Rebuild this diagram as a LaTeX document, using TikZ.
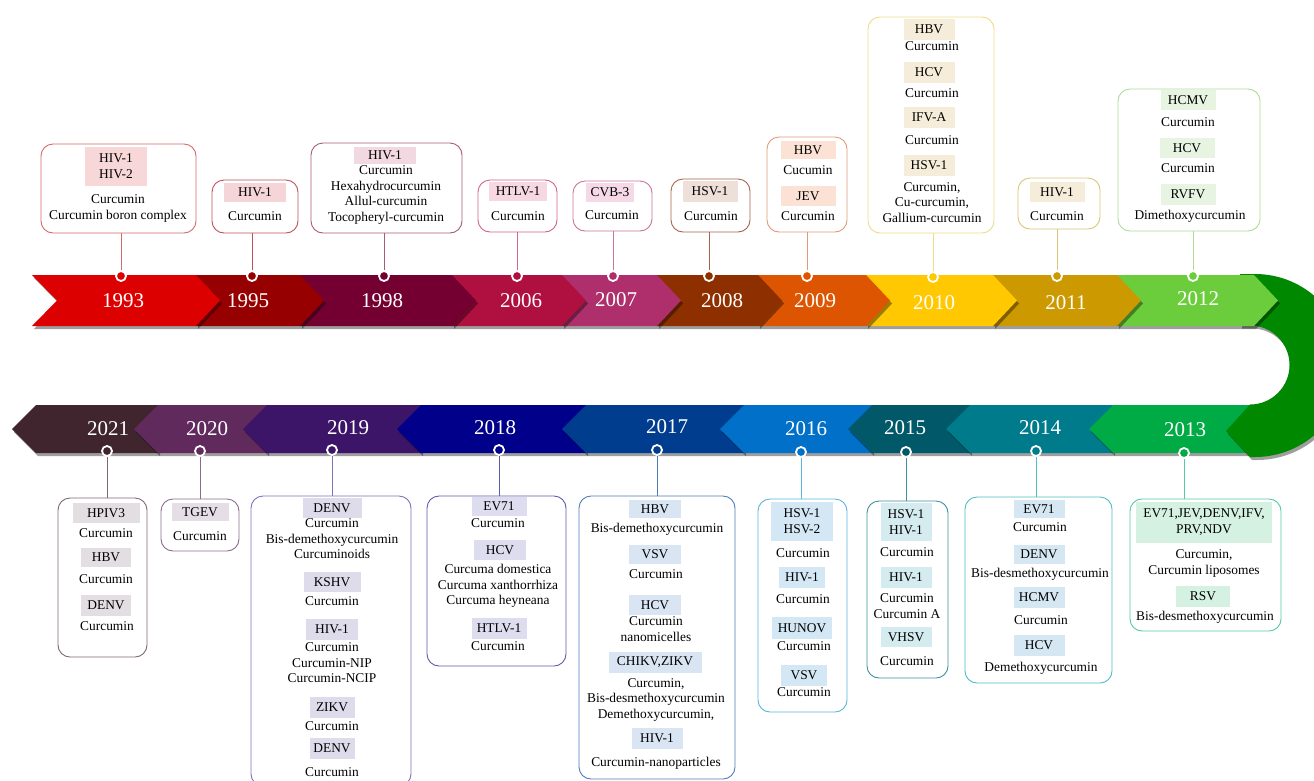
\documentclass[tikz,border=0pt]{standalone}
\usepackage{fontspec}
\setmainfont{Liberation Serif}
\usetikzlibrary{fit}
% band colours
\definecolor{c1993}{HTML}{DD0000}\definecolor{c1995}{HTML}{960000}
\definecolor{c1998}{HTML}{730030}\definecolor{c2006}{HTML}{B01040}
\definecolor{c2007}{HTML}{AE2F6B}\definecolor{c2008}{HTML}{8E2F00}
\definecolor{c2009}{HTML}{DD5500}\definecolor{c2010}{HTML}{FFC800}
\definecolor{c2011}{HTML}{CC9900}\definecolor{c2012}{HTML}{6CCD3C}
\definecolor{cU}{HTML}{008800}
\definecolor{c2013}{HTML}{00AA44}\definecolor{c2014}{HTML}{007B8B}
\definecolor{c2015}{HTML}{005868}\definecolor{c2016}{HTML}{0070C8}
\definecolor{c2017}{HTML}{003D8F}\definecolor{c2018}{HTML}{00008A}
\definecolor{c2019}{HTML}{3C1568}\definecolor{c2020}{HTML}{602A5C}
\definecolor{c2021}{HTML}{40252F}
% box borders
\definecolor{b1993}{HTML}{D46A6A}\definecolor{b1995}{HTML}{C0505A}
\definecolor{b1998}{HTML}{A85A78}\definecolor{b2006}{HTML}{D0648C}
\definecolor{b2007}{HTML}{C8749C}\definecolor{b2008}{HTML}{A8644A}
\definecolor{b2009}{HTML}{E09A78}\definecolor{b2010}{HTML}{F0DC88}
\definecolor{b2011}{HTML}{DCC478}\definecolor{b2012}{HTML}{ADDC98}
\definecolor{b2021}{HTML}{7E6874}\definecolor{b2020}{HTML}{8C6C8A}
\definecolor{b2019}{HTML}{8470BA}\definecolor{b2018}{HTML}{5C5CAA}
\definecolor{b2017}{HTML}{4C7CBA}\definecolor{b2016}{HTML}{5CB4DE}
\definecolor{b2015}{HTML}{3E909E}\definecolor{b2014}{HTML}{52BAC2}
\definecolor{b2013}{HTML}{52CAA2}
% header fills
\definecolor{h1993}{HTML}{F7D7D7}\definecolor{h1995}{HTML}{F5D5D8}
\definecolor{h1998}{HTML}{F2D8E0}\definecolor{h2006}{HTML}{F6D8E2}
\definecolor{h2007}{HTML}{F6D9E6}\definecolor{h2008}{HTML}{EEDFD8}
\definecolor{h2009}{HTML}{FBE2D4}\definecolor{h2010}{HTML}{F5EDDA}
\definecolor{h2012}{HTML}{E7F4E1}
\definecolor{h2021}{HTML}{E3DEE2}\definecolor{h2020}{HTML}{E6DEE6}
\definecolor{h2019}{HTML}{DEDBEA}\definecolor{h2018}{HTML}{DDDDEF}
\definecolor{h2017}{HTML}{DAE5F4}\definecolor{h2016}{HTML}{D4E7F5}
\definecolor{h2015}{HTML}{D4EBEF}\definecolor{h2014}{HTML}{D6E7F4}
\definecolor{h2013}{HTML}{D4F1E1}

\newcount\nn
\newcommand\Tx[3]{\global\advance\nn by 1\relax\node[txt] (t\the\nn) at (#1,#2) {#3};}
\newcommand\Hd[6]{\global\advance\nn by 1\relax\node[hdr,fill=#5,minimum width=#3pt,minimum height=#4pt] (h\the\nn) at (#1,#2) {#6};}
\newcommand\Bx[6]{\node[bx,draw=#6,fit={(#2,#3) (#4,#5)}] (#1) {};}
\newcommand\Dt[4]{\node[dotnode,fill=#4] (#1) at (#2,#3) {};}
\newcommand\TopSeg[3]{%
  \fill[shd,shift={(2,3)}] (#1,275) -- (#2,275) -- ({#2+24},300.5) -- (#2,326) -- (#1,326) -- cycle;
  \fill[#3] (#1,275) -- (#2,275) -- ({#2+24},300.5) -- (#2,326) -- (#1,326) -- cycle;}
\newcommand\BotSeg[3]{%
  \fill[shd,shift={(2,3)}] (#1,429) -- ({#1+24},405) -- (#2,405) -- (#2,453) -- ({#1+24},453) -- cycle;
  \fill[#3] (#1,429) -- ({#1+24},405) -- (#2,405) -- (#2,453) -- ({#1+24},453) -- cycle;}

\begin{document}
\begin{tikzpicture}[x=1pt,y=-1pt,
  shd/.style={fill=black,opacity=0.38},
  txt/.style={inner sep=0pt,text height=9.2pt,text depth=2.8pt,font=\fontsize{13.4}{15.5}\selectfont},
  hdr/.style={inner sep=0pt,align=center,font=\fontsize{13.4}{16}\selectfont},
  bx/.style={rounded corners=12pt,line width=0.9pt,fill=white,inner sep=0pt},
  dotnode/.style={circle,inner sep=0pt,minimum size=10pt,draw=white,line width=1.8pt},
  yr/.style={text=white,inner sep=0pt,font=\fontsize{21}{24}\selectfont},
  cn/.style={line width=0.9pt}]
\useasboundingbox (0,0) rectangle (1314,780);
\clip (0,0) rectangle (1314,780);

% ---------- bottom band (left to right) ----------
\BotSeg{12}{158}{c2021}
\BotSeg{134}{267}{c2020}
\BotSeg{243}{421}{c2019}
\BotSeg{397}{586}{c2018}
\BotSeg{562}{744}{c2017}
\BotSeg{720}{872}{c2016}
\BotSeg{848}{970}{c2015}
\BotSeg{946}{1113}{c2014}
\BotSeg{1089}{1260}{c2013}

% ---------- U turn ----------
\fill[shd,shift={(2,3)}] (1240,274) -- (1255,274) .. controls (1305.5,274) and (1346.5,315) .. (1346.5,365.5)
  .. controls (1346.5,416) and (1305.5,457) .. (1255,457) -- (1250,457) -- (1226,431) -- (1250,404.5)
  .. controls (1271.8,404.5) and (1289.5,386.8) .. (1289.5,365) .. controls (1289.5,343.2) and (1271.8,325.5) .. (1250,325.5)
  -- (1240,325.5) -- cycle;
\fill[cU] (1240,274) -- (1255,274) .. controls (1305.5,274) and (1346.5,315) .. (1346.5,365.5)
  .. controls (1346.5,416) and (1305.5,457) .. (1255,457) -- (1250,457) -- (1226,431) -- (1250,404.5)
  .. controls (1271.8,404.5) and (1289.5,386.8) .. (1289.5,365) .. controls (1289.5,343.2) and (1271.8,325.5) .. (1250,325.5)
  -- (1240,325.5) -- cycle;

% ---------- top band (right to left) ----------
\TopSeg{1117}{1254}{c2012}
\TopSeg{993}{1117}{c2011}
\TopSeg{866}{993}{c2010}
\TopSeg{758}{866}{c2009}
\TopSeg{657}{758}{c2008}
\TopSeg{562}{657}{c2007}
\TopSeg{452}{562}{c2006}
\TopSeg{300}{452}{c1998}
\TopSeg{196}{300}{c1995}
\fill[shd,shift={(2,3)}] (32,275) -- (196,275) -- (220,300.5) -- (196,326) -- (32,326) -- (57,300.5) -- cycle;
\fill[c1993] (32,275) -- (196,275) -- (220,300.5) -- (196,326) -- (32,326) -- (57,300.5) -- cycle;

% ---------- years ----------
\node[yr] (y1993) at (123,301) {1993};
\node[yr] (y1995) at (248,301) {1995};
\node[yr] (y1998) at (382,301) {1998};
\node[yr] (y2006) at (521,301) {2006};
\node[yr] (y2007) at (616,300) {2007};
\node[yr] (y2008) at (722,301) {2008};
\node[yr] (y2009) at (815,301) {2009};
\node[yr] (y2010) at (934,303) {2010};
\node[yr] (y2011) at (1066,303) {2011};
\node[yr] (y2012) at (1198,299) {2012};
\node[yr] (y2021) at (108,429) {2021};
\node[yr] (y2020) at (207,429) {2020};
\node[yr] (y2019) at (348,428) {2019};
\node[yr] (y2018) at (495,428) {2018};
\node[yr] (y2017) at (667,427) {2017};
\node[yr] (y2016) at (806,429) {2016};
\node[yr] (y2015) at (905,428) {2015};
\node[yr] (y2014) at (1040,428) {2014};
\node[yr] (y2013) at (1185,430) {2013};

% ---------- boxes ----------
\Bx{x1993}{41}{144}{196}{233}{b1993}
\Bx{x1995}{212}{180}{298}{233}{b1995}
\Bx{x1998}{311}{143}{462}{233}{b1998}
\Bx{x2006}{478}{180}{557}{232}{b2006}
\Bx{x2007}{573}{181}{652}{231}{b2007}
\Bx{x2008}{671}{179}{750}{232}{b2008}
\Bx{x2009}{767}{137}{847}{232}{b2009}
\Bx{x2010}{868}{17}{994}{233}{b2010}
\Bx{x2011}{1018}{178}{1100}{229}{b2011}
\Bx{x2012}{1118}{89}{1260}{231}{b2012}
\Bx{x2021}{58}{498}{147}{657}{b2021}
\Bx{x2020}{161}{499}{239}{551}{b2020}
\Bx{x2019}{251}{496}{411}{786}{b2019}
\Bx{x2018}{427}{496}{566}{666}{b2018}
\Bx{x2017}{579}{496}{735}{779}{b2017}
\Bx{x2016}{758}{499}{847}{712}{b2016}
\Bx{x2015}{867}{501}{948}{678}{b2015}
\Bx{x2014}{965}{497}{1112}{683}{b2014}
\Bx{x2013}{1130}{499}{1281}{631}{b2013}

% ---------- box contents: top ----------
\Hd{116}{166.5}{62}{39}{h1993}{HIV-1\\HIV-2}
\Tx{118}{200}{Curcumin}
\Tx{118}{216}{Curcumin boron complex}

\Hd{255}{192.5}{62}{19}{h1995}{HIV-1}
\Tx{255}{217}{Curcumin}

\Hd{385}{155}{62}{17}{h1998}{HIV-1}
\Tx{386}{171}{Curcumin}
\Tx{386}{187}{Hexahydrocurcumin}
\Tx{386}{202}{Allul-curcumin}
\Tx{386}{218}{Tocopheryl-curcumin}

\Hd{518}{191.5}{58}{19}{h2006}{HTLV-1}
\Tx{518}{217}{Curcumin}

\Hd{610}{192}{48}{19}{h2007}{CVB-3}
\Tx{612}{216}{Curcumin}

\Hd{710}{191}{55}{21}{h2008}{HSV-1}
\Tx{711}{217}{Curcumin}

\Hd{808}{150}{55}{18}{h2009}{HBV}
\Tx{808}{171}{Cucumin}
\Hd{808}{196}{55}{20}{h2009}{JEV}
\Tx{808}{217}{Curcumin}

\Hd{929}{29}{51}{21}{h2010}{HBV}
\Tx{932}{47}{Curcumin}
\Hd{929}{72.5}{51}{21}{h2010}{HCV}
\Tx{932}{94}{Curcumin}
\Hd{929}{117.5}{51}{21}{h2010}{IFV-A}
\Tx{932}{141}{Curcumin}
\Hd{929}{165.5}{51}{21}{h2010}{HSV-1}
\Tx{932}{188}{Curcumin,}
\Tx{932}{203}{Cu-curcumin,}
\Tx{932}{219}{Gallium-curcumin}

\Hd{1057}{192}{55}{20}{h2010}{HIV-1}
\Tx{1057}{217}{Curcumin}

\Hd{1188}{100}{55}{20}{h2012}{HCMV}
\Tx{1188}{123}{Curcumin}
\Hd{1187}{148}{55}{20}{h2012}{HCV}
\Tx{1188}{169}{Curcumin}
\Hd{1188}{194.5}{55}{21}{h2012}{RVFV}
\Tx{1190}{216}{Dimethoxycurcumin}

% ---------- box contents: bottom ----------
\Hd{106}{513}{67}{20}{h2021}{HPIV3}
\Tx{106}{534}{Curcumin}
\Hd{106}{557.5}{50}{19}{h2021}{HBV}
\Tx{106}{580}{Curcumin}
\Hd{106}{605.5}{50}{21}{h2021}{DENV}
\Tx{107}{627}{Curcumin}

\Hd{200}{512}{57}{18}{h2020}{TGEV}
\Tx{200}{537}{Curcumin}

\Hd{332}{508}{59}{20}{h2019}{DENV}
\Tx{332}{524}{Curcumin}
\Tx{332}{540}{Bis-demethoxycurcumin}
\Tx{332}{555}{Curcuminoids}
\Hd{332}{582}{57}{20}{h2019}{KSHV}
\Tx{332}{602}{Curcumin}
\Hd{332}{629.5}{52}{21}{h2019}{HIV-1}
\Tx{332}{648}{Curcumin}
\Tx{332}{664}{Curcumin-NIP}
\Tx{332}{679}{Curcumin-NCIP}
\Hd{332}{707.5}{45}{21}{h2019}{ZIKV}
\Tx{332}{727}{Curcumin}
\Hd{332}{748.5}{45}{21}{h2019}{DENV}
\Tx{332}{773}{Curcumin}

\Hd{499}{506.5}{55}{19}{h2018}{EV71}
\Tx{498}{524}{Curcumin}
\Hd{500}{550}{52}{20}{h2018}{HCV}
\Tx{498}{570}{Curcuma domestica}
\Tx{498}{586}{Curcuma xanthorrhiza}
\Tx{498}{601}{Curcuma heyneana}
\Hd{499}{628.5}{55}{21}{h2018}{HTLV-1}
\Tx{498}{647}{Curcumin}

\Hd{655}{509}{52}{18}{h2017}{HBV}
\Tx{657}{529}{Bis-demethoxycurcumin}
\Hd{655}{554.5}{52}{19}{h2017}{VSV}
\Tx{656}{575}{Curcumin}
\Hd{655}{605}{52}{20}{h2017}{HCV}
\Tx{656}{622}{Curcumin}
\Tx{656}{638}{nanomicelles}
\Hd{655}{662.5}{93}{21}{h2017}{CHIKV,ZIKV}
\Tx{656}{684}{Curcumin,}
\Tx{656}{699}{Bis-desmethoxycurcumin}
\Tx{656}{715}{Demethoxycurcumin,}
\Hd{657}{738.5}{51}{21}{h2017}{HIV-1}
\Tx{656}{763}{Curcumin-nanoparticles}

\Hd{802}{521.5}{62}{39}{h2016}{HSV-1\\HSV-2}
\Tx{803}{554}{Curcumin}
\Hd{802}{577.5}{46}{21}{h2016}{HIV-1}
\Tx{803}{600}{Curcumin}
\Hd{802}{628}{60}{22}{h2016}{HUNOV}
\Tx{804}{647}{Curcumin}
\Hd{804}{675.5}{46}{21}{h2016}{VSV}
\Tx{804}{693}{Curcumin}

\Hd{906}{522}{51}{38}{h2015}{HSV-1\\HIV-1}
\Tx{907}{553}{Curcumin}
\Hd{906}{577.5}{51}{21}{h2015}{HIV-1}
\Tx{907}{599}{Curcumin}
\Tx{907}{615}{Curcumin A}
\Hd{906}{637}{51}{20}{h2015}{VHSV}
\Tx{907}{662}{Curcumin}

\Hd{1039}{509}{51}{18}{h2014}{EV71}
\Tx{1040}{528}{Curcumin}
\Hd{1039}{554.5}{51}{19}{h2014}{DENV}
\Tx{1040}{574}{Bis-desmethoxycurcumin}
\Hd{1039}{597.5}{51}{21}{h2014}{HCMV}
\Tx{1041}{621}{Curcumin}
\Hd{1039}{645.5}{51}{21}{h2014}{HCV}
\Tx{1041}{668}{Demethoxycurcumin}

\Hd{1204}{522.5}{136}{41}{h2013}{EV71,JEV,DENV,IFV,\\PRV,NDV}
\Tx{1204}{555}{Curcumin,}
\Tx{1204}{571}{Curcumin liposomes}
\Hd{1203}{596.5}{54}{21}{h2013}{RSV}
\Tx{1205}{617}{Bis-desmethoxycurcumin}

% ---------- dots ----------
\Dt{d1993}{121}{276}{c1993}
\Dt{d1995}{252}{276}{c1995}
\Dt{d1998}{384}{276}{c1998}
\Dt{d2006}{517}{276}{c2006}
\Dt{d2007}{613}{276}{c2007}
\Dt{d2008}{709}{276}{c2008}
\Dt{d2009}{807}{276}{c2009}
\Dt{d2010}{933}{277}{c2010}
\Dt{d2011}{1057}{276}{c2011}
\Dt{d2012}{1193}{276}{c2012}
\Dt{d2021}{107}{451}{c2021}
\Dt{d2020}{200}{451}{c2020}
\Dt{d2019}{332}{450}{c2019}
\Dt{d2018}{499}{450}{c2018}
\Dt{d2017}{657}{450}{c2017}
\Dt{d2016}{801}{452}{c2016}
\Dt{d2015}{906}{452}{c2015}
\Dt{d2014}{1036}{451}{c2014}
\Dt{d2013}{1184}{453}{c2013}

% ---------- connectors ----------
\foreach \yy in {1993,1995,1998,2006,2007,2008,2009,2010,2011,2012}
  \draw[cn,draw=b\yy] (d\yy.north) -- (d\yy.north |- x\yy.south);
\foreach \yy in {2021,2020,2019,2018,2017,2016,2015,2014,2013}
  \draw[cn,draw=b\yy] (d\yy.south) -- (d\yy.south |- x\yy.north);
\end{tikzpicture}
\end{document}
